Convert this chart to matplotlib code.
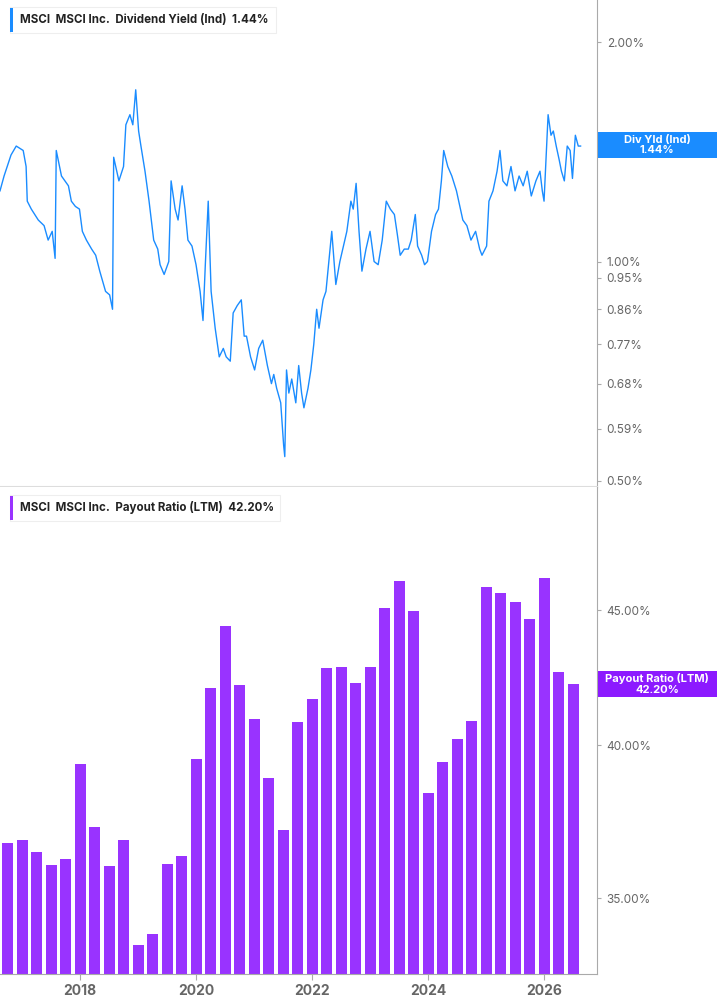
import matplotlib
matplotlib.use("Agg")
import matplotlib.pyplot as plt
import numpy as np
from matplotlib.ticker import FixedLocator, NullLocator

yield_dates = [2016.62,2016.69,2016.81,2016.90,2017.02,2017.07,2017.09,2017.16,2017.28,2017.38,2017.45,2017.52,2017.57,2017.59,
 2017.68,2017.80,2017.85,2017.92,2017.99,2018.04,2018.11,2018.20,2018.27,2018.34,2018.44,2018.51,2018.56,2018.58,
 2018.67,2018.75,2018.79,2018.86,2018.91,2018.96,2019.01,2019.05,2019.12,2019.19,2019.27,2019.34,2019.38,2019.45,
 2019.53,2019.57,2019.64,2019.69,2019.76,2019.81,2019.86,2019.93,2020.00,2020.07,2020.12,2020.16,2020.21,2020.26,
 2020.33,2020.40,2020.47,2020.52,2020.59,2020.64,2020.71,2020.78,2020.83,2020.87,2020.94,2021.01,2021.08,2021.15,
 2021.23,2021.30,2021.34,2021.39,2021.46,2021.51,2021.53,2021.56,2021.60,2021.65,2021.72,2021.77,2021.82,2021.86,
 2021.93,2021.98,2022.03,2022.08,2022.12,2022.19,2022.24,2022.29,2022.34,2022.41,2022.48,2022.53,2022.60,2022.67,
 2022.71,2022.76,2022.81,2022.86,2022.93,2023.00,2023.07,2023.14,2023.21,2023.28,2023.35,2023.42,2023.47,2023.52,
 2023.59,2023.66,2023.71,2023.78,2023.82,2023.89,2023.94,2023.99,2024.06,2024.13,2024.18,2024.23,2024.27,2024.34,
 2024.41,2024.49,2024.56,2024.60,2024.67,2024.74,2024.82,2024.89,2024.93,2025.01,2025.05,2025.12,2025.19,2025.24,
 2025.29,2025.36,2025.43,2025.50,2025.57,2025.64,2025.71,2025.78,2025.86,2025.93,2025.97,2026.00,2026.04,2026.07,
 2026.12,2026.16,2026.21,2026.26,2026.30,2026.35,2026.40,2026.45,2026.49,2026.54,2026.59,2026.63]
yield_values = [1.25,1.31,1.40,1.44,1.42,1.35,1.21,1.18,1.14,1.12,1.07,1.10,1.01,1.42,
 1.31,1.27,1.21,1.19,1.18,1.10,1.07,1.04,1.02,0.97,0.91,0.90,0.86,1.39,
 1.29,1.35,1.54,1.59,1.54,1.72,1.51,1.44,1.33,1.21,1.07,1.04,0.99,0.96,
 1.00,1.29,1.18,1.14,1.27,1.18,1.07,1.05,0.99,0.91,0.83,0.99,1.21,0.91,
 0.81,0.74,0.76,0.74,0.73,0.85,0.87,0.886,0.79,0.79,0.74,0.71,0.76,0.78,
 0.72,0.68,0.70,0.67,0.64,0.56,0.54,0.71,0.66,0.69,0.64,0.72,0.66,0.63,
 0.67,0.71,0.77,0.86,0.81,0.886,0.91,1.00,1.10,0.93,1.00,1.04,1.10,1.21,
 1.18,1.28,1.10,0.97,1.04,1.10,1.00,0.99,1.07,1.21,1.18,1.16,1.09,1.02,
 1.04,1.04,1.07,1.16,1.05,1.02,0.99,1.00,1.10,1.16,1.18,1.29,1.42,1.35,
 1.31,1.25,1.18,1.14,1.12,1.07,1.10,1.04,1.02,1.05,1.21,1.25,1.33,1.42,
 1.29,1.27,1.35,1.25,1.31,1.27,1.33,1.23,1.29,1.33,1.25,1.21,1.42,1.59,
 1.49,1.51,1.44,1.38,1.33,1.29,1.44,1.42,1.30,1.49,1.44,1.44]

bar_dates = [2016.75 + 0.25*i for i in range(40)]
payout_values = [36.73,36.83,36.44,36.03,36.22,39.34,37.25,36.00,36.81,33.59,33.91,36.05,36.30,39.51,
 42.04,44.36,42.14,40.92,38.87,37.14,40.81,41.64,42.77,42.81,42.21,42.81,45.09,46.15,44.96,38.35,
 39.43,40.20,40.84,45.90,45.67,45.32,44.66,46.29,42.64,42.20]

yield_ticks = [2.00,1.00,0.95,0.86,0.77,0.68,0.59,0.50]
payout_ticks = [35.0,40.0,45.0]
year_ticks = [2018,2020,2022,2024,2026]

BLUE = "#1a8cff"
PURPLE = "#9933ff"
GREY = "#666666"
plt.rcParams['font.family'] = ['Inter', 'DejaVu Sans']

fig = plt.figure(figsize=(7.17,10.05), dpi=100)
W, H = 717, 1005
ax1 = fig.add_axes([0, 1-487/H, 597/W, 487/H])
ax2 = fig.add_axes([0, 1-974/H, 597/W, 487/H])
xlim = (2016.62, 2016.62+597/58)
for ax in (ax1, ax2):
    ax.set_xlim(*xlim)
    ax.set_yscale('log')
    ax.yaxis.tick_right()
    ax.yaxis.set_minor_locator(NullLocator())
    for s in ('top','left'):
        ax.spines[s].set_visible(False)
    ax.spines['right'].set_color('#aaaaaa')
    ax.tick_params(axis='y', colors=GREY, labelsize=8.5, length=3, pad=4, direction='out')
    ax.tick_params(axis='y', color='#aaaaaa')

ax1.plot(yield_dates, yield_values, color=BLUE, lw=1.0)
ax1.set_ylim(0.4906, 2.284)
ax1.yaxis.set_major_locator(FixedLocator(yield_ticks))
ax1.set_yticklabels([f"{t:.2f}%" for t in yield_ticks])
ax1.spines['bottom'].set_color('#dddddd')
ax1.spines['bottom'].set_linewidth(1.5)
ax1.set_xticks([])

ax2.bar(bar_dates, payout_values, width=0.19, color=PURPLE, bottom=0)
ax2.set_ylim(32.76, 50.1)
ax2.yaxis.set_major_locator(FixedLocator(payout_ticks))
ax2.set_yticklabels([f"{t:.2f}%" for t in payout_ticks])
ax2.spines['bottom'].set_color('#aaaaaa')
ax2.set_xticks(year_ticks)
ax2.set_xticklabels([str(y) for y in year_ticks], fontweight='bold', color=GREY, fontsize=10)
ax2.tick_params(axis='x', colors='#aaaaaa', length=4, labelcolor=GREY)

def legend(y, color, text, w):
    fig.patches.append(plt.Rectangle((10/W, 1-(y+13)/H), w/W, 26/H, transform=fig.transFigure,
                       facecolor='white', edgecolor='#eeeeee', lw=0.8))
    fig.patches.append(plt.Rectangle((10/W, 1-(y+12)/H), 3/W, 24/H, transform=fig.transFigure,
                       facecolor=color, edgecolor='none'))
    fig.text(20/W, 1-y/H, text, fontsize=8.3, fontweight='bold', color='#222222', va='center')

legend(20, BLUE, "MSCI  MSCI Inc.  Dividend Yield (Ind)  1.44%", 266)
legend(508, PURPLE, "MSCI  MSCI Inc.  Payout Ratio (LTM)  42.20%", 270)

def tag(y0, y1, color, text):
    fig.patches.append(plt.Rectangle((598/W, 1-y1/H), 119/W, (y1-y0)/H, transform=fig.transFigure,
                       facecolor=color, edgecolor='none'))
    fig.text(657/W, 1-(y0+y1)/2/H, text, fontsize=8, fontweight='bold', color='white',
             ha='center', va='center', linespacing=1.1)

tag(132, 158, BLUE, "Div Yld (Ind)\n1.44%")
tag(671, 697, "#8c1aff", "Payout Ratio (LTM)\n42.20%")

fig.savefig("out.png", dpi=100)
